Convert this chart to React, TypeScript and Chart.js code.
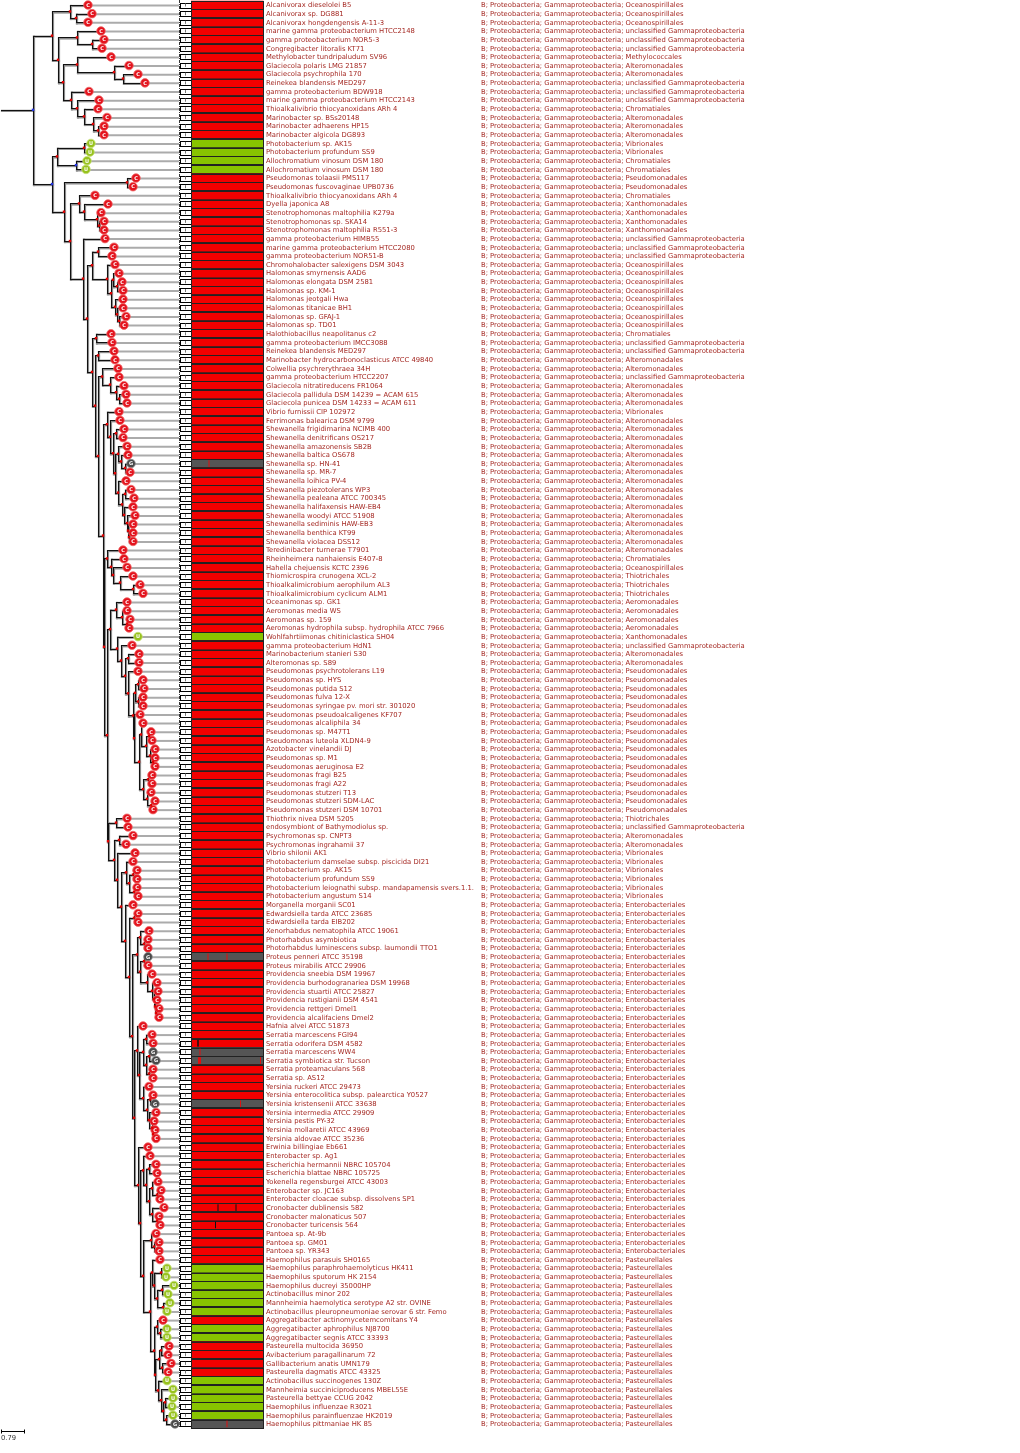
import React, { useEffect, useRef } from "react";
import { Chart, registerables } from "chart.js";

Chart.register(...registerables);

// ---------------- data ----------------
const species: string[] = [
  "Alcanivorax dieselolei B5", "Alcanivorax sp. DG881", "Alcanivorax hongdengensis A-11-3",
  "marine gamma proteobacterium HTCC2148", "gamma proteobacterium NOR5-3", "Congregibacter litoralis KT71",
  "Methylobacter tundripaludum SV96", "Glaciecola polaris LMG 21857", "Glaciecola psychrophila 170",
  "Reinekea blandensis MED297", "gamma proteobacterium BDW918", "marine gamma proteobacterium HTCC2143",
  "Thioalkalivibrio thiocyanoxidans ARh 4", "Marinobacter sp. BSs20148", "Marinobacter adhaerens HP15",
  "Marinobacter algicola DG893", "Photobacterium sp. AK15", "Photobacterium profundum SS9",
  "Allochromatium vinosum DSM 180", "Allochromatium vinosum DSM 180", "Pseudomonas tolaasii PMS117",
  "Pseudomonas fuscovaginae UPB0736", "Thioalkalivibrio thiocyanoxidans ARh 4", "Dyella japonica A8",
  "Stenotrophomonas maltophilia K279a", "Stenotrophomonas sp. SKA14", "Stenotrophomonas maltophilia R551-3",
  "gamma proteobacterium HIMB55", "marine gamma proteobacterium HTCC2080", "gamma proteobacterium NOR51-B",
  "Chromohalobacter salexigens DSM 3043", "Halomonas smyrnensis AAD6", "Halomonas elongata DSM 2581",
  "Halomonas sp. KM-1", "Halomonas jeotgali Hwa", "Halomonas titanicae BH1", "Halomonas sp. GFAJ-1",
  "Halomonas sp. TD01", "Halothiobacillus neapolitanus c2", "gamma proteobacterium IMCC3088",
  "Reinekea blandensis MED297", "Marinobacter hydrocarbonoclasticus ATCC 49840", "Colwellia psychrerythraea 34H",
  "gamma proteobacterium HTCC2207", "Glaciecola nitratireducens FR1064", "Glaciecola pallidula DSM 14239 = ACAM 615",
  "Glaciecola punicea DSM 14233 = ACAM 611", "Vibrio furnissii CIP 102972", "Ferrimonas balearica DSM 9799",
  "Shewanella frigidimarina NCIMB 400", "Shewanella denitrificans OS217", "Shewanella amazonensis SB2B",
  "Shewanella baltica OS678", "Shewanella sp. HN-41", "Shewanella sp. MR-7", "Shewanella loihica PV-4",
  "Shewanella piezotolerans WP3", "Shewanella pealeana ATCC 700345", "Shewanella halifaxensis HAW-EB4",
  "Shewanella woodyi ATCC 51908", "Shewanella sediminis HAW-EB3", "Shewanella benthica KT99",
  "Shewanella violacea DSS12", "Teredinibacter turnerae T7901", "Rheinheimera nanhaiensis E407-8",
  "Hahella chejuensis KCTC 2396", "Thiomicrospira crunogena XCL-2", "Thioalkalimicrobium aerophilum AL3",
  "Thioalkalimicrobium cyclicum ALM1", "Oceanimonas sp. GK1", "Aeromonas media WS", "Aeromonas sp. 159",
  "Aeromonas hydrophila subsp. hydrophila ATCC 7966", "Wohlfahrtiimonas chitiniclastica SH04",
  "gamma proteobacterium HdN1", "Marinobacterium stanieri S30", "Alteromonas sp. S89",
  "Pseudomonas psychrotolerans L19", "Pseudomonas sp. HYS", "Pseudomonas putida S12", "Pseudomonas fulva 12-X",
  "Pseudomonas syringae pv. mori str. 301020", "Pseudomonas pseudoalcaligenes KF707", "Pseudomonas alcaliphila 34",
  "Pseudomonas sp. M47T1", "Pseudomonas luteola XLDN4-9", "Azotobacter vinelandii DJ", "Pseudomonas sp. M1",
  "Pseudomonas aeruginosa E2", "Pseudomonas fragi B25", "Pseudomonas fragi A22", "Pseudomonas stutzeri T13",
  "Pseudomonas stutzeri SDM-LAC", "Pseudomonas stutzeri DSM 10701", "Thiothrix nivea DSM 5205",
  "endosymbiont of Bathymodiolus sp.", "Psychromonas sp. CNPT3", "Psychromonas ingrahamii 37",
  "Vibrio shilonii AK1", "Photobacterium damselae subsp. piscicida DI21", "Photobacterium sp. AK15",
  "Photobacterium profundum SS9", "Photobacterium leiognathi subsp. mandapamensis svers.1.1.",
  "Photobacterium angustum S14", "Morganella morganii SC01", "Edwardsiella tarda ATCC 23685",
  "Edwardsiella tarda EIB202", "Xenorhabdus nematophila ATCC 19061", "Photorhabdus asymbiotica",
  "Photorhabdus luminescens subsp. laumondii TTO1", "Proteus penneri ATCC 35198", "Proteus mirabilis ATCC 29906",
  "Providencia sneebia DSM 19967", "Providencia burhodogranariea DSM 19968", "Providencia stuartii ATCC 25827",
  "Providencia rustigianii DSM 4541", "Providencia rettgeri Dmel1", "Providencia alcalifaciens Dmel2",
  "Hafnia alvei ATCC 51873", "Serratia marcescens FGI94", "Serratia odorifera DSM 4582",
  "Serratia marcescens WW4", "Serratia symbiotica str. Tucson", "Serratia proteamaculans 568",
  "Serratia sp. AS12", "Yersinia ruckeri ATCC 29473", "Yersinia enterocolitica subsp. palearctica Y0527",
  "Yersinia kristensenii ATCC 33638", "Yersinia intermedia ATCC 29909", "Yersinia pestis PY-32",
  "Yersinia mollaretii ATCC 43969", "Yersinia aldovae ATCC 35236", "Erwinia billingiae Eb661",
  "Enterobacter sp. Ag1", "Escherichia hermannii NBRC 105704", "Escherichia blattae NBRC 105725",
  "Yokenella regensburgei ATCC 43003", "Enterobacter sp. JC163", "Enterobacter cloacae subsp. dissolvens SP1",
  "Cronobacter dublinensis 582", "Cronobacter malonaticus 507", "Cronobacter turicensis 564",
  "Pantoea sp. At-9b", "Pantoea sp. GM01", "Pantoea sp. YR343", "Haemophilus parasuis SH0165",
  "Haemophilus paraphrohaemolyticus HK411", "Haemophilus sputorum HK 2154", "Haemophilus ducreyi 35000HP",
  "Actinobacillus minor 202", "Mannheimia haemolytica serotype A2 str. OVINE",
  "Actinobacillus pleuropneumoniae serovar 6 str. Femo", "Aggregatibacter actinomycetemcomitans Y4",
  "Aggregatibacter aphrophilus NJ8700", "Aggregatibacter segnis ATCC 33393", "Pasteurella multocida 36950",
  "Avibacterium paragallinarum 72", "Gallibacterium anatis UMN179", "Pasteurella dagmatis ATCC 43325",
  "Actinobacillus succinogenes 130Z", "Mannheimia succiniciproducens MBEL55E", "Pasteurella bettyae CCUG 2042",
  "Haemophilus influenzae R3021", "Haemophilus parainfluenzae HK2019", "Haemophilus pittmaniae HK 85",
];

const taxPrefix = "B; Proteobacteria; Gammaproteobacteria; ";
const orderNames: Record<string, string> = {
  O: "Oceanospirillales", U: "unclassified Gammaproteobacteria", M: "Methylococcales",
  A: "Alteromonadales", C: "Chromatiales", V: "Vibrionales", P: "Pseudomonadales",
  X: "Xanthomonadales", T: "Thiotrichales", R: "Aeromonadales", E: "Enterobacteriales",
  S: "Pasteurellales",
};
const orderCodes: string[] = [
  "OOOUUUMAAUUUCAAA", "VVCCPPC", "XXXX", "UUU", "OOOOOOOO", "CUUAAUAAAV",
  "AAAAAAAAAAAAAAAA", "COTTTRRRRXUAA", "PPPPPPPPPPPPPPPPP", "TUAAVVVVVV",
  "EEEEEEEEEEEEEEEEEEEEEEEEEEEEEEEEEEEEEEEEE", "SSSSSSSSSSSSSSSSSSSS",
];

// tip (leaf) depth of each row, in tree units
const tipX: number[] = [
  88, 92, 88, 101, 104, 102, 111, 129, 138, 145,
  89, 99, 98, 107, 104, 104, 91, 90, 87, 86,
  136, 133, 95, 108, 101, 104, 104, 105, 114, 112,
  115, 119, 122, 123, 123, 123, 126, 124, 111, 112,
  114, 115, 118, 119, 124, 126, 127, 119, 120, 124,
  123, 127, 128, 131, 130, 126, 131, 134, 133, 135,
  133, 133, 133, 123, 124, 127, 133, 140, 143, 127,
  127, 130, 129, 138, 132, 139, 139, 138, 143, 144,
  143, 143, 140, 143, 151, 152, 155, 155, 155, 152,
  152, 151, 155, 153, 127, 128, 133, 126, 135, 133,
  137, 137, 137, 138, 133, 138, 138, 149, 148, 148,
  148, 148, 152, 157, 158, 157, 159, 159, 143, 152,
  153, 153, 156, 153, 153, 149, 153, 155, 156, 154,
  155, 156, 148, 150, 156, 157, 158, 161, 160, 164,
  159, 160, 156, 159, 159, 160, 167, 166, 174, 168,
  170, 167, 163, 167, 167, 169, 168, 171, 168, 167,
  173, 173, 172, 173, 175,
];

const greenRows: number[] = [16, 17, 18, 19, 73, 146, 147, 148, 149, 150, 151, 153, 154, 159, 160, 161, 162, 163];
const grayRows: number[] = [53, 110, 121, 122, 127, 164];

// small marks inside some bars
const markRows: number[] = [53, 110, 110, 120, 121, 122, 122, 127, 139, 139, 141, 164];
const markX: number[] = [209, 208, 227, 198, 200, 199.5, 260.5, 240.5, 218, 236, 215.5, 227];
const markWidth: number[] = [1, 1, 1, 1.5, 1, 3, 1, 1, 1, 1, 1, 1];
const markColor: string[] = ["#e01010", "#e01010", "#e01010", "#111", "#e01010", "#e01010", "#e01010", "#e01010", "#111", "#111", "#111", "#e01010"];

// tree topology: leaves = row index, ")<x>" = node depth, "b" = blue node
const cladeTop = "((0,(1,2)76)70,((3,(4,5)92)77,((6,(7,(8,9)123)114)77,(10,(11,(12,(13,(14,15)98)93)84)77)71)63)58)52";
const cladeVib = "((16,17)84,(18,19)b76)57";
const cladeXan = "(22,(23,(24,(25,26)99)97)84)79";
const cladeHal = "((28,29)98,(30,((31,(32,33)117)113,(34,(35,(36,37)119)117)115)111)107)92";
const cladeGla = "(42,(43,(44,(45,46)119)116)110)102";
const cladeShe = "(47,(48,((49,50)116,((51,(52,(53,54)125)121)118,(55,((56,57)125,(58,(59,(60,(61,62)129)128)127)124)122)118)115)113)110)107";
const cladeThi = "(63,(64,(65,(66,(67,68)133)120)113)111)107";
const cladePse = "((69,(70,(71,72)127)122)116,(73,(74,((75,76)128,(77,(((78,79)138,(80,81)138)135,(82,((83,((84,85)149,(86,(87,88)153)150)146)141,((89,90)148,(91,(92,93)151)147)143)139)134)133)128)125)121)117)110";
const cladeEnt1 = "((107,(108,109)144)140,((110,111)144,(112,(113,(114,(115,(116,117)156)155)154)152)147)140)137";
const cladeEnt2 = "(118,(((119,120)146,((121,122)149,(123,124)149)146)143,(125,((126,127)150,(128,(129,(130,131)153)152)149)147)143)139)137";
const cladeEnt3 = "(132,((133,((134,135)149,((136,(137,138)157)152,(139,(140,141)157)152)149)146)143,((142,(143,144)154)151,((145,((146,147)161,((148,149)162,(150,151)163)157)154)152,((152,(153,154)160)157,(((155,156)161,(157,158)162)159,(159,(160,((161,162)165,(163,164)166)163)161)158)155)154)150)143)140)138";

function buildNewick(): string {
  const z = "((99,((100,101)133,(102,103)134)129)126,(104,((105,106)134,(" + cladeEnt1 + ",(" + cladeEnt2 + "," + cladeEnt3 + ")134)132)129)125)121";
  const w = "((94,95)116,((96,97)119,(98," + z + ")117)114)108";
  const u = "(" + cladePse + "," + w + ")107";
  const s = "(" + cladeThi + "," + u + ")104";
  const r = "(" + cladeShe + "," + s + ")103";
  const p1 = "(" + cladeGla + "," + r + ")98";
  const n95 = "((40,41)98," + p1 + ")95";
  const n92 = "((38,39)96," + n95 + ")92";
  const n87 = "(" + cladeHal + "," + n92 + ")87";
  const n83 = "(27," + n87 + ")83";
  const n70 = "(" + cladeXan + "," + n83 + ")70";
  const n64 = "((20,21)127," + n70 + ")64";
  const lower = "(" + cladeVib + "," + n64 + ")b52";
  return "(" + cladeTop + "," + lower + ")b33";
}

// ---------------- tree parsing ----------------
type TNode = { x: number; y: number; leaf?: number; children?: TNode[]; blue?: boolean };

function parseTree(s: string): TNode {
  let i = 0;
  const num = () => {
    const j = i;
    while (i < s.length && /[0-9.]/.test(s[i])) i++;
    return parseFloat(s.slice(j, i));
  };
  const node = (): TNode => {
    if (s[i] === "(") {
      i++;
      const children: TNode[] = [node()];
      while (s[i] === ",") {
        i++;
        children.push(node());
      }
      i++;
      let blue = false;
      if (s[i] === "b") {
        blue = true;
        i++;
      }
      const x = num();
      const y = (children[0].y + children[children.length - 1].y) / 2;
      return { x, y, children, blue };
    }
    const leaf = num();
    return { x: tipX[leaf], y: leaf, leaf };
  };
  return node();
}

const ROW0 = 5;
const ROW_STEP = 8.652;
const CW = 1020;
const CH = 1453;

function rowColor(i: number): string {
  if (greenRows.includes(i)) return "#88c400";
  if (grayRows.includes(i)) return "#555555";
  return "#f20000";
}
function circleColor(i: number): string {
  if (greenRows.includes(i)) return "#97c21e";
  if (grayRows.includes(i)) return "#4a4a4a";
  return "#e3141e";
}

export default function App() {
  const ref = useRef<HTMLCanvasElement | null>(null);

  useEffect(() => {
    if (!ref.current) return;
    const root = parseTree(buildNewick());
    const segs: number[][] = [];
    const inner: { x: number; y: number; blue: boolean }[] = [];
    const walk = (n: TNode) => {
      if (!n.children) return;
      const c0 = n.children[0];
      const c1 = n.children[n.children.length - 1];
      segs.push([n.x, c0.y, n.x, c1.y]);
      n.children.forEach((c) => {
        segs.push([n.x, c.y, c.x, c.y]);
        walk(c);
      });
      inner.push({ x: n.x, y: n.y, blue: !!n.blue });
    };
    walk(root);
    segs.push([1, root.y, root.x, root.y]);

    const orders = orderCodes.join("").split("").map((c) => orderNames[c]);
    const rows = species.map((_, i) => i);

    const yMin = -ROW0 / ROW_STEP;
    const yMax = yMin + CH / ROW_STEP;

    const treePlugin = {
      id: "treeDraw",
      beforeDatasetsDraw(chart: any) {
        const ctx: CanvasRenderingContext2D = chart.ctx;
        const xs = chart.scales.x;
        const ys = chart.scales.y;
        const px = (v: number) => xs.getPixelForValue(v);
        const py = (v: number) => ys.getPixelForValue(v);
        const rowH = Math.abs(py(1) - py(0));
        ctx.save();
        // leaf connectors
        ctx.strokeStyle = "#ababab";
        ctx.lineWidth = 2;
        rows.forEach((i) => {
          ctx.beginPath();
          ctx.moveTo(px(tipX[i]), py(i) + 0.5);
          ctx.lineTo(px(179), py(i) + 0.5);
          ctx.stroke();
        });
        // tree shadow + branches
        ctx.lineCap = "square";
        ctx.strokeStyle = "#8a8a8a";
        ctx.lineWidth = 2.2;
        segs.forEach(([x1, y1, x2, y2]) => {
          ctx.beginPath();
          ctx.moveTo(px(x1) + 1, py(y1) + 1);
          ctx.lineTo(px(x2) + 1, py(y2) + 1);
          ctx.stroke();
        });
        ctx.strokeStyle = "#111";
        ctx.lineWidth = 1;
        segs.forEach(([x1, y1, x2, y2]) => {
          ctx.beginPath();
          ctx.moveTo(Math.round(px(x1)) + 0.5, Math.round(py(y1)) + 0.5);
          ctx.lineTo(Math.round(px(x2)) + 0.5, Math.round(py(y2)) + 0.5);
          ctx.stroke();
        });
        ctx.lineCap = "butt";
        // boxes & bars
        const bx0 = px(179.5), bx1 = px(191), barR = px(263.5);
        rows.forEach((i) => {
          const y = py(i);
          ctx.fillStyle = "#fff";
          ctx.fillRect(bx0, y - 2.5, bx1 - bx0, 5);
          ctx.strokeStyle = "#000";
          ctx.lineWidth = 1;
          ctx.strokeRect(Math.round(bx0) + 0.5, Math.round(y - 2.5) + 0.5, Math.round(bx1 - bx0) - 1, 5);
          ctx.strokeStyle = "#777";
          ctx.beginPath();
          ctx.moveTo(px(185) + 0.5, y - 1.5);
          ctx.lineTo(px(185) + 0.5, y + 1.5);
          ctx.stroke();
          ctx.fillStyle = rowColor(i);
          ctx.fillRect(bx1, y - rowH / 2, barR - bx1, rowH);
          ctx.strokeStyle = "#222";
          ctx.strokeRect(Math.round(bx1) + 0.5, Math.round(y - rowH / 2) + 0.5, Math.round(barR - bx1) - 1, Math.round(rowH) - 1);
        });
        // marks inside bars
        markRows.forEach((r, k) => {
          ctx.fillStyle = markColor[k];
          ctx.fillRect(px(markX[k]) - markWidth[k] / 2, py(r) - rowH / 2 + 1, markWidth[k], rowH - 2);
        });
        // dash-dot guide
        ctx.strokeStyle = "#333";
        ctx.setLineDash([3, 1, 1, 1]);
        ctx.beginPath();
        ctx.moveTo(bx0, 0);
        ctx.lineTo(bx0, py(164) + 4);
        ctx.stroke();
        ctx.setLineDash([]);
        // labels
        ctx.font = '6.8px "DejaVu Sans"';
        ctx.textBaseline = "middle";
        ctx.fillStyle = "#a52a24";
        rows.forEach((i) => {
          ctx.fillText(species[i], px(266), py(i) + 0.5);
          ctx.fillText(taxPrefix + orders[i], px(481), py(i) + 0.5);
        });
        // scale bar
        const sy = Math.round(py(164.8)) + 0.5;
        ctx.strokeStyle = "#000";
        ctx.beginPath();
        ctx.moveTo(px(1), sy);
        ctx.lineTo(px(25), sy);
        ctx.moveTo(px(1) + 0.5, sy - 2);
        ctx.lineTo(px(1) + 0.5, sy + 2);
        ctx.moveTo(px(25) - 0.5, sy - 2);
        ctx.lineTo(px(25) - 0.5, sy + 2);
        ctx.stroke();
        ctx.fillStyle = "#333";
        ctx.fillText("0.79", px(1), sy + 7);
        ctx.restore();
      },
      afterDatasetsDraw(chart: any) {
        const ctx: CanvasRenderingContext2D = chart.ctx;
        const xs = chart.scales.x;
        const ys = chart.scales.y;
        ctx.save();
        ctx.font = 'bold 5px "DejaVu Sans"';
        ctx.textAlign = "center";
        ctx.textBaseline = "middle";
        ctx.fillStyle = "#fff";
        rows.forEach((i) => {
          const letter = greenRows.includes(i) ? "U" : grayRows.includes(i) ? "G" : "C";
          ctx.fillText(letter, xs.getPixelForValue(tipX[i]), ys.getPixelForValue(i) + 0.5);
        });
        ctx.restore();
      },
    };

    const chart = new Chart(ref.current, {
      type: "scatter",
      data: {
        datasets: [
          {
            label: "nodes",
            data: inner.map((n) => ({ x: n.x, y: n.y })),
            pointStyle: "rect",
            pointRadius: 1.7,
            backgroundColor: inner.map((n) => (n.blue ? "#2233dd" : "#e00000")),
            borderWidth: 0,
          },
          {
            label: "leaves",
            data: rows.map((i) => ({ x: tipX[i], y: i })),
            pointRadius: 4.3,
            backgroundColor: rows.map((i) => circleColor(i)),
            borderColor: rows.map((i) => (greenRows.includes(i) ? "#c8e07a" : grayRows.includes(i) ? "#888" : "#f06a6a")),
            borderWidth: 0.8,
          },
        ],
      },
      options: {
        responsive: false,
        animation: false,
        devicePixelRatio: 1,
        events: [],
        layout: { padding: 0, autoPadding: false },
        plugins: { legend: { display: false }, tooltip: { enabled: false } },
        scales: {
          x: { type: "linear", min: 0, max: CW, display: false },
          y: { type: "linear", min: yMin, max: yMax, reverse: true, display: false },
        },
      },
      plugins: [treePlugin],
    } as any);
    return () => chart.destroy();
  }, []);

  return (
    <div style={{ position: "absolute", left: 0, top: 0, width: CW, height: CH, background: "#fff" }}>
      <canvas ref={ref} width={CW} height={CH} style={{ display: "block" }} />
    </div>
  );
}
